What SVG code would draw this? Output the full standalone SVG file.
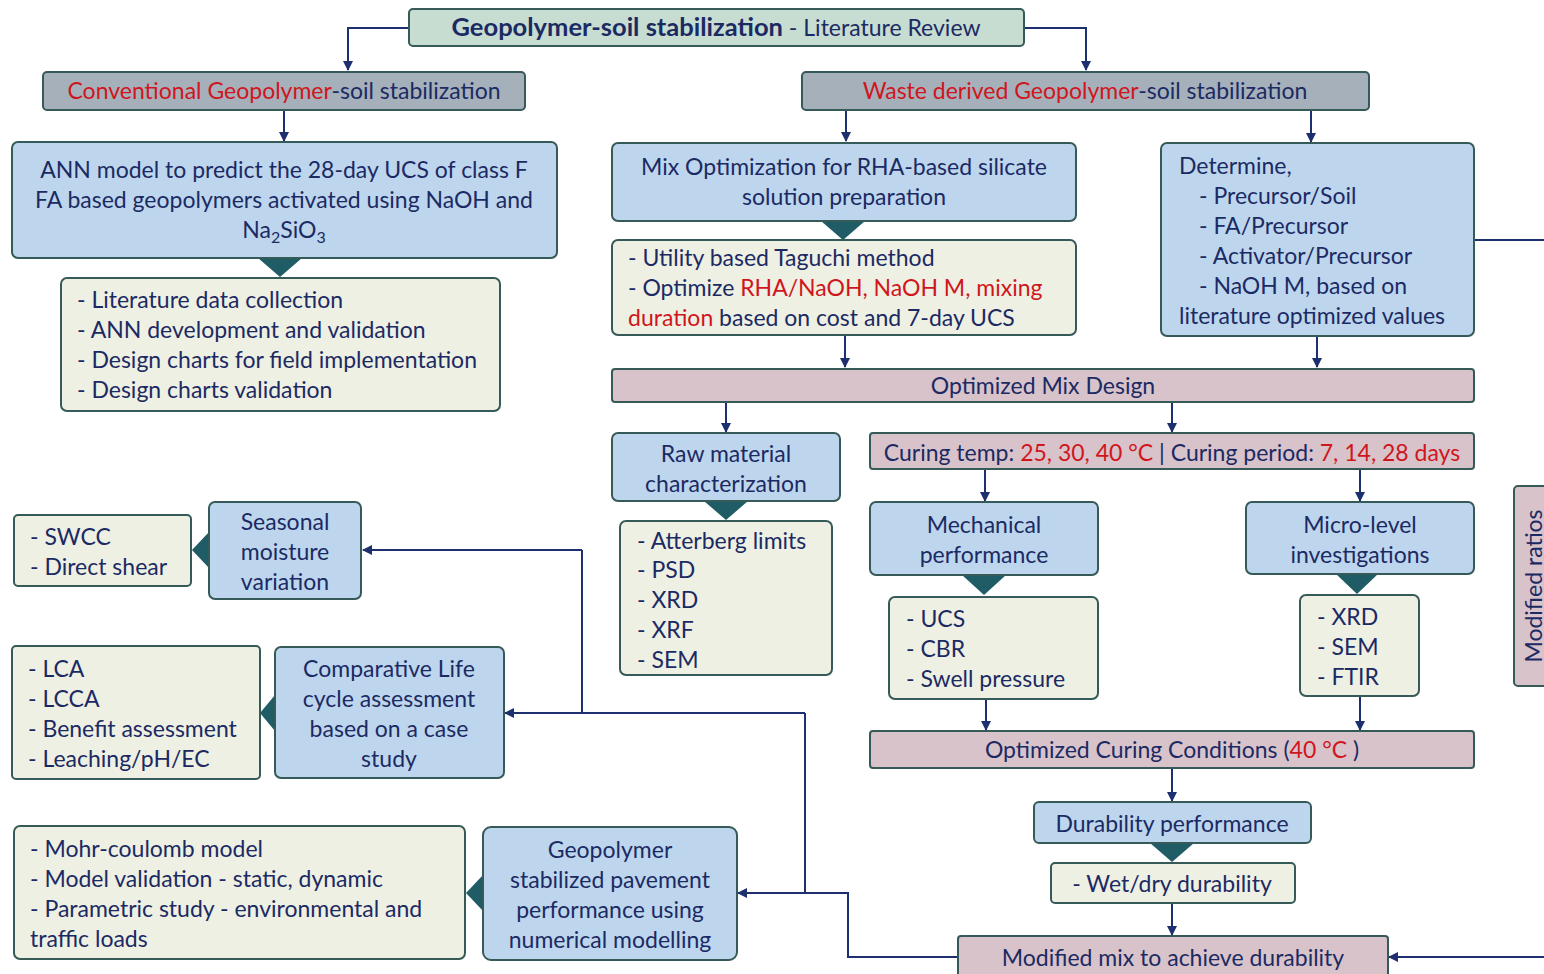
<svg xmlns="http://www.w3.org/2000/svg" width="1544" height="974" viewBox="0 0 1544 974">
<defs>
<marker id="ah" viewBox="0 0 10 10" refX="9" refY="5" markerWidth="10" markerHeight="10" markerUnits="userSpaceOnUse" orient="auto">
<path d="M0,0 L10,5 L0,10 z" fill="#1d2f6e"/>
</marker>
<style>
text{font-family:"Lato","Open Sans","Liberation Sans",sans-serif;font-size:23px;fill:#1c2a63}
.c{text-anchor:middle}
.r{fill:#d0161d}
.b{font-weight:bold;font-size:25.5px}
rect{stroke:#355a58;stroke-width:2}
.title{fill:#c7ddd2}
.gray{fill:#a5b0bb}
.blue{fill:#bdd6ee}
.cream{fill:#eef0e3}
.pink{fill:#d8c3ca}
.ln{fill:none;stroke:#1d2f6e;stroke-width:2}
.ar{fill:none;stroke:#1d2f6e;stroke-width:2;marker-end:url(#ah)}
.tri{fill:#1f5c66}
</style>
</defs>

<g id="connectors">
<path class="ar" d="M409,28 H348 V70"/>
<path class="ar" d="M1024,28 H1086 V70"/>
<path class="ar" d="M284,110 V141"/>
<path class="ar" d="M846,110 V141"/>
<path class="ar" d="M1311,110 V142"/>
<path class="ln" d="M1474,240 H1544"/>
<path class="ar" d="M845,335 V367"/>
<path class="ar" d="M1317,336 V367"/>
<path class="ar" d="M726,402 V432"/>
<path class="ar" d="M1172,402 V432"/>
<path class="ar" d="M985,469 V501"/>
<path class="ar" d="M1360,469 V501"/>
<path class="ar" d="M986,699 V730"/>
<path class="ar" d="M1360,696 V730"/>
<path class="ar" d="M1172,768 V801"/>
<path class="ar" d="M1172,903 V935"/>
<path class="ar" d="M1544,957 H1389"/>
<path class="ar" d="M958,957 H848 V893 H738"/>
<path class="ln" d="M805,893 V713"/>
<path class="ar" d="M805,713 H505"/>
<path class="ln" d="M582,713 V550"/>
<path class="ar" d="M582,550 H363"/>
<polygon class="tri" points="258,258 302,258 280,277"/>
<polygon class="tri" points="821,221 865,221 843,240"/>
<polygon class="tri" points="704,501 748,501 726,520"/>
<polygon class="tri" points="962,575 1006,575 984,595"/>
<polygon class="tri" points="1336,574 1378,574 1357,594"/>
<polygon class="tri" points="1150,843 1194,843 1172,862"/>
<polygon class="tri" points="209,532 209,568 192,550"/>
<polygon class="tri" points="275,695 275,731 260,713"/>
<polygon class="tri" points="483,875 483,911 466,893"/>
</g>

<g id="n-title">
<rect class="title" x="409" y="9" width="615" height="37" rx="4"/>
<text class="c" x="716" y="36"><tspan class="b">Geopolymer-soil stabilization</tspan> - Literature Review</text>
</g>
<g id="n-conventional">
<rect class="gray" x="43" y="72" width="482" height="38" rx="4"/>
<text class="c" x="284" y="99"><tspan class="r">Conventional Geopolymer</tspan>-soil stabilization</text>
</g>
<g id="n-waste">
<rect class="gray" x="802" y="72" width="567" height="38" rx="4"/>
<text class="c" x="1085" y="99"><tspan class="r">Waste derived Geopolymer</tspan>-soil stabilization</text>
</g>
<g id="n-ann">
<rect class="blue" x="12" y="142" width="545" height="116" rx="6"/>
<text class="c" x="284" y="178">ANN model to predict the 28-day UCS of class F</text>
<text class="c" x="284" y="208">FA based geopolymers activated  using NaOH and</text>
<text class="c" x="284" y="238">Na<tspan font-size="16" dy="5">2</tspan><tspan dy="-5">SiO</tspan><tspan font-size="16" dy="5">3</tspan></text>
</g>
<g id="n-ann-list">
<rect class="cream" x="61" y="278" width="439" height="133" rx="6"/>
<text x="77" y="308">- Literature data collection</text>
<text x="77" y="338">- ANN development and validation</text>
<text x="77" y="368">- Design charts for field implementation</text>
<text x="77" y="398">- Design charts validation</text>
</g>
<g id="n-mixopt">
<rect class="blue" x="612" y="143" width="464" height="78" rx="6"/>
<text class="c" x="844" y="175">Mix Optimization for RHA-based silicate</text>
<text class="c" x="844" y="205">solution preparation</text>
</g>
<g id="n-taguchi">
<rect class="cream" x="612" y="240" width="464" height="95" rx="6"/>
<text x="628" y="266">- Utility  based Taguchi method</text>
<text x="628" y="296">- Optimize <tspan class="r">RHA/NaOH, NaOH M, mixing</tspan></text>
<text x="628" y="326"><tspan class="r">duration</tspan> based on cost and 7-day UCS</text>
</g>
<g id="n-determine">
<rect class="blue" x="1161" y="143" width="313" height="193" rx="6"/>
<text x="1179" y="174">Determine,</text>
<text x="1199" y="204">- Precursor/Soil</text>
<text x="1199" y="234">- FA/Precursor</text>
<text x="1199" y="264">- Activator/Precursor</text>
<text x="1199" y="294">- NaOH M, based on</text>
<text x="1179" y="324">literature optimized values</text>
</g>
<g id="n-optmix">
<rect class="pink" x="612" y="369" width="862" height="33" rx="3"/>
<text class="c" x="1043" y="394">Optimized Mix Design</text>
</g>
<g id="n-raw">
<rect class="blue" x="612" y="433" width="228" height="68" rx="6"/>
<text class="c" x="726" y="462">Raw material</text>
<text class="c" x="726" y="492">characterization</text>
</g>
<g id="n-raw-list">
<rect class="cream" x="620" y="521" width="212" height="154" rx="6"/>
<text x="637" y="549">- Atterberg limits</text>
<text x="637" y="578">- PSD</text>
<text x="637" y="608">- XRD</text>
<text x="637" y="638">- XRF</text>
<text x="637" y="668">- SEM</text>
</g>
<g id="n-curing">
<rect class="pink" x="870" y="433" width="604" height="36" rx="3"/>
<text class="c" x="1172" y="461">Curing temp: <tspan class="r">25, 30, 40 °C</tspan> | Curing period: <tspan class="r">7, 14, 28 days</tspan></text>
</g>
<g id="n-mech">
<rect class="blue" x="870" y="502" width="228" height="73" rx="6"/>
<text class="c" x="984" y="533">Mechanical</text>
<text class="c" x="984" y="563">performance</text>
</g>
<g id="n-mech-list">
<rect class="cream" x="889" y="597" width="209" height="102" rx="6"/>
<text x="906" y="627">- UCS</text>
<text x="906" y="657">- CBR</text>
<text x="906" y="687">- Swell pressure</text>
</g>
<g id="n-micro">
<rect class="blue" x="1246" y="502" width="228" height="72" rx="6"/>
<text class="c" x="1360" y="533">Micro-level</text>
<text class="c" x="1360" y="563">investigations</text>
</g>
<g id="n-micro-list">
<rect class="cream" x="1300" y="595" width="119" height="101" rx="6"/>
<text x="1317" y="625">- XRD</text>
<text x="1317" y="655">- SEM</text>
<text x="1317" y="685">- FTIR</text>
</g>
<g id="n-optcuring">
<rect class="pink" x="870" y="731" width="604" height="37" rx="3"/>
<text class="c" x="1172" y="758">Optimized Curing Conditions (<tspan class="r">40 °C</tspan> )</text>
</g>
<g id="n-durability">
<rect class="blue" x="1034" y="802" width="277" height="41" rx="5"/>
<text class="c" x="1172" y="832">Durability performance</text>
</g>
<g id="n-wetdry">
<rect class="cream" x="1051" y="863" width="244" height="40" rx="4"/>
<text class="c" x="1172" y="892">- Wet/dry durability</text>
</g>
<g id="n-modmix">
<rect class="pink" x="958" y="936" width="430" height="50" rx="3"/>
<text class="c" x="1173" y="966">Modified mix to achieve durability</text>
</g>
<g id="n-modratios">
<rect class="pink" x="1514" y="486" width="40" height="200" rx="4"/>
<text class="c" transform="translate(1542,586) rotate(-90)">Modified ratios</text>
</g>
<g id="n-seasonal">
<rect class="blue" x="209" y="502" width="152" height="97" rx="6"/>
<text class="c" x="285" y="530">Seasonal</text>
<text class="c" x="285" y="560">moisture</text>
<text class="c" x="285" y="590">variation</text>
</g>
<g id="n-seasonal-list">
<rect class="cream" x="14" y="515" width="177" height="71" rx="4"/>
<text x="30" y="545">- SWCC</text>
<text x="30" y="575">- Direct shear</text>
</g>
<g id="n-lca">
<rect class="blue" x="275" y="647" width="229" height="131" rx="6"/>
<text class="c" x="389" y="677">Comparative Life</text>
<text class="c" x="389" y="707">cycle assessment</text>
<text class="c" x="389" y="737">based on a case</text>
<text class="c" x="389" y="767">study</text>
</g>
<g id="n-lca-list">
<rect class="cream" x="12" y="646" width="248" height="133" rx="4"/>
<text x="28" y="677">- LCA</text>
<text x="28" y="707">- LCCA</text>
<text x="28" y="737">- Benefit assessment</text>
<text x="28" y="767">- Leaching/pH/EC</text>
</g>
<g id="n-pavement">
<rect class="blue" x="483" y="827" width="254" height="133" rx="8"/>
<text class="c" x="610" y="858">Geopolymer</text>
<text class="c" x="610" y="888">stabilized  pavement</text>
<text class="c" x="610" y="918">performance using</text>
<text class="c" x="610" y="948">numerical modelling</text>
</g>
<g id="n-pavement-list">
<rect class="cream" x="14" y="826" width="451" height="133" rx="6"/>
<text x="30" y="857">- Mohr-coulomb model</text>
<text x="30" y="887">- Model validation - static, dynamic</text>
<text x="30" y="917">- Parametric study - environmental and</text>
<text x="30" y="947">traffic loads</text>
</g>
</svg>
